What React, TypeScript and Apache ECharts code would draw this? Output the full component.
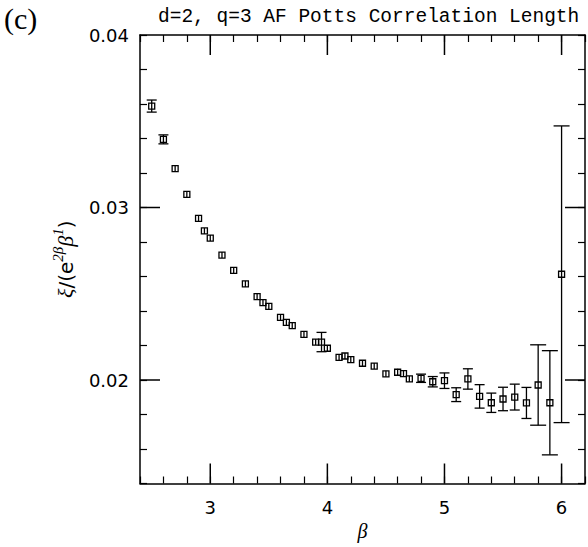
import { useEffect, useRef } from "react";
import * as echarts from "echarts";

// beta values (x)
const beta = [
  2.5, 2.6, 2.7, 2.8, 2.9, 2.95, 3.0, 3.1, 3.2, 3.3, 3.4, 3.45, 3.5, 3.6, 3.65,
  3.7, 3.8, 3.9, 3.95, 4.0, 4.1, 4.15, 4.2, 4.3, 4.4, 4.5, 4.6, 4.65, 4.7, 4.8,
  4.9, 5.0, 5.1, 5.2, 5.3, 5.4, 5.5, 5.6, 5.7, 5.8, 5.9, 6.0,
];
// xi / (e^{2beta} beta^1)
const xiRatio = [
  0.03588, 0.03395, 0.03225, 0.03076, 0.02937, 0.02864, 0.02823, 0.02724,
  0.02636, 0.02557, 0.02483, 0.02448, 0.02427, 0.02363, 0.02334, 0.02315,
  0.02265, 0.0222, 0.0222, 0.02184, 0.02131, 0.02139, 0.02118, 0.02097,
  0.02081, 0.02036, 0.02045, 0.02037, 0.02006, 0.0201, 0.0199, 0.01996,
  0.01915, 0.02006, 0.01905, 0.01868, 0.0189, 0.01901, 0.01867, 0.01971,
  0.01868, 0.02613,
];
// one-sigma error bars
const xiError = [
  0.00035, 0.00026, 0.00012, 0.00008, 0.0001, 0.00012, 0.00008, 0.00006,
  0.00006, 0.00006, 0.00006, 0.00012, 0.00006, 0.00006, 0.00008, 0.00006,
  0.00006, 0.00008, 0.00056, 0.0001, 0.00006, 0.00012, 0.00006, 0.00006,
  0.00006, 0.00008, 0.0002, 0.00018, 0.00016, 0.00024, 0.0003, 0.00045,
  0.0004, 0.00059, 0.00068, 0.00056, 0.00068, 0.00075, 0.0009, 0.00233,
  0.00302, 0.0086,
];

const xTickLabels = [3, 4, 5, 6];
const yTickLabels = [0.02, 0.03, 0.04];
const xMajorTicks = [3, 4, 5, 6];
const yMajorTicks = [0.02, 0.03];

const X_MIN = 2.4;
const X_MAX = 6.2;
const Y_MIN = 0.014;
const Y_MAX = 0.04;

const BLACK = "#000";

export default function App() {
  const ref = useRef<HTMLDivElement>(null);

  useEffect(() => {
    if (!ref.current) return;
    const chart = echarts.init(ref.current, null, { renderer: "svg" });

    const axisLineStyle = { lineStyle: { color: BLACK, width: 1.5 } };
    const minorTick = { inside: true, length: 7, lineStyle: { color: BLACK, width: 1.2 } };

    const option: any = {
      animation: false,
      backgroundColor: "#fff",
      title: {
        text: "d=2, q=3 AF Potts Correlation Length",
        left: 158,
        top: 7,
        padding: 0,
        textStyle: {
          fontFamily: "Liberation Mono",
          fontSize: 19.5,
          fontWeight: "normal",
          color: BLACK,
        },
      },
      graphic: [
        {
          type: "text",
          left: 4,
          top: 3,
          style: {
            text: "(c)",
            font: "30px 'Liberation Serif'",
            fill: BLACK,
          },
        },
      ],
      grid: {
        left: 140,
        top: 35,
        width: 452.7,
        height: 448.5,
        containLabel: false,
      },
      xAxis: [
        {
          type: "value",
          position: "bottom",
          min: X_MIN,
          max: X_MAX,
          interval: 0.2,
          splitLine: { show: false },
          axisLine: { show: true, onZero: false, ...axisLineStyle },
          axisTick: minorTick,
          axisLabel: {
            margin: 15,
            color: BLACK,
            fontFamily: "DejaVu Sans",
            fontSize: 18,
            formatter: (v: number) =>
              xTickLabels.some((t) => Math.abs(t - v) < 1e-6) ? String(Math.round(v)) : "",
          },
          name: "β",
          nameLocation: "middle",
          nameGap: 32,
          nameTextStyle: {
            fontFamily: "Liberation Serif",
            fontStyle: "italic",
            fontSize: 20,
            color: BLACK,
          },
        },
        {
          type: "value",
          position: "top",
          min: X_MIN,
          max: X_MAX,
          interval: 0.2,
          splitLine: { show: false },
          axisLine: { show: true, onZero: false, ...axisLineStyle },
          axisTick: minorTick,
          axisLabel: { show: false },
        },
      ],
      yAxis: [
        {
          type: "value",
          position: "left",
          min: Y_MIN,
          max: Y_MAX,
          interval: 0.002,
          splitLine: { show: false },
          axisLine: { show: true, onZero: false, ...axisLineStyle },
          axisTick: minorTick,
          axisLabel: {
            margin: 11,
            color: BLACK,
            fontFamily: "DejaVu Sans",
            fontSize: 18,
            formatter: (v: number) =>
              yTickLabels.some((t) => Math.abs(t - v) < 1e-9) ? v.toFixed(2) : "",
          },
          name: "{g|ξ}{s|/(e}{sup|2β}{g|β}{sup|1}{s|)}",
          nameLocation: "middle",
          nameRotate: 90,
          nameGap: 64,
          nameTextStyle: {
            color: BLACK,
            rich: {
              g: {
                fontFamily: "Liberation Serif",
                fontStyle: "italic",
                fontSize: 22,
                lineHeight: 26,
                verticalAlign: "bottom",
                color: BLACK,
              },
              s: {
                fontFamily: "DejaVu Sans",
                fontSize: 20,
                lineHeight: 26,
                verticalAlign: "bottom",
                color: BLACK,
              },
              sup: {
                fontFamily: "Liberation Serif",
                fontStyle: "italic",
                fontSize: 15,
                lineHeight: 15,
                verticalAlign: "top",
                color: BLACK,
              },
            },
          },
        },
        {
          type: "value",
          position: "right",
          min: Y_MIN,
          max: Y_MAX,
          interval: 0.002,
          splitLine: { show: false },
          axisLine: { show: true, onZero: false, ...axisLineStyle },
          axisTick: minorTick,
          axisLabel: { show: false },
        },
      ],
      series: [
        {
          type: "custom",
          name: "major x ticks",
          xAxisIndex: 0,
          yAxisIndex: 0,
          clip: false,
          silent: true,
          data: xMajorTicks.map((v) => [v, Y_MIN]),
          encode: { x: 0, y: 1 },
          renderItem: (_p: any, api: any) => {
            const v = api.value(0);
            const b = api.coord([v, Y_MIN]);
            const t = api.coord([v, Y_MAX]);
            const st = { stroke: BLACK, lineWidth: 1.5 };
            return {
              type: "group",
              children: [
                { type: "line", shape: { x1: b[0], y1: b[1], x2: b[0], y2: b[1] - 20 }, style: st },
                { type: "line", shape: { x1: t[0], y1: t[1], x2: t[0], y2: t[1] + 20 }, style: st },
              ],
            };
          },
        },
        {
          type: "custom",
          name: "major y ticks",
          xAxisIndex: 0,
          yAxisIndex: 0,
          clip: false,
          silent: true,
          data: yMajorTicks.map((v) => [X_MIN, v]),
          encode: { x: 0, y: 1 },
          renderItem: (_p: any, api: any) => {
            const v = api.value(1);
            const l = api.coord([X_MIN, v]);
            const r = api.coord([X_MAX, v]);
            const st = { stroke: BLACK, lineWidth: 1.5 };
            return {
              type: "group",
              children: [
                { type: "line", shape: { x1: l[0], y1: l[1], x2: l[0] + 20, y2: l[1] }, style: st },
                { type: "line", shape: { x1: r[0], y1: r[1], x2: r[0] - 20, y2: r[1] }, style: st },
              ],
            };
          },
        },
        {
          type: "custom",
          name: "xi ratio",
          xAxisIndex: 0,
          yAxisIndex: 0,
          clip: false,
          data: beta.map((b, i) => [b, xiRatio[i], xiError[i]]),
          encode: { x: 0, y: 1 },
          renderItem: (_p: any, api: any) => {
            const x = api.value(0);
            const y = api.value(1);
            const e = api.value(2);
            const c = api.coord([x, y]);
            const hi = api.coord([x, y + e]);
            const lo = api.coord([x, y - e]);
            const s = 3;
            const half = (lo[1] - hi[1]) / 2;
            const st = { stroke: BLACK, lineWidth: 1.3, fill: "none" };
            const top = Math.min(hi[1], c[1] - s);
            const bot = Math.max(lo[1], c[1] + s);
            const children: any[] = [
              { type: "line", shape: { x1: c[0], y1: top, x2: c[0], y2: bot }, style: st },
            ];
            if (half > s + 0.5) {
              const cap = half > 30 ? 8 : 5;
              children.push(
                { type: "line", shape: { x1: c[0] - cap, y1: hi[1], x2: c[0] + cap, y2: hi[1] }, style: st },
                { type: "line", shape: { x1: c[0] - cap, y1: lo[1], x2: c[0] + cap, y2: lo[1] }, style: st }
              );
            }
            children.push({
              type: "rect",
              shape: { x: c[0] - s, y: c[1] - s, width: 2 * s, height: 2 * s },
              style: st,
            });
            return { type: "group", children };
          },
        },
      ],
    };

    chart.setOption(option);
    return () => chart.dispose();
  }, []);

  return (
    <div
      ref={ref}
      style={{ position: "absolute", left: 0, top: 0, width: 588, height: 547 }}
    />
  );
}
